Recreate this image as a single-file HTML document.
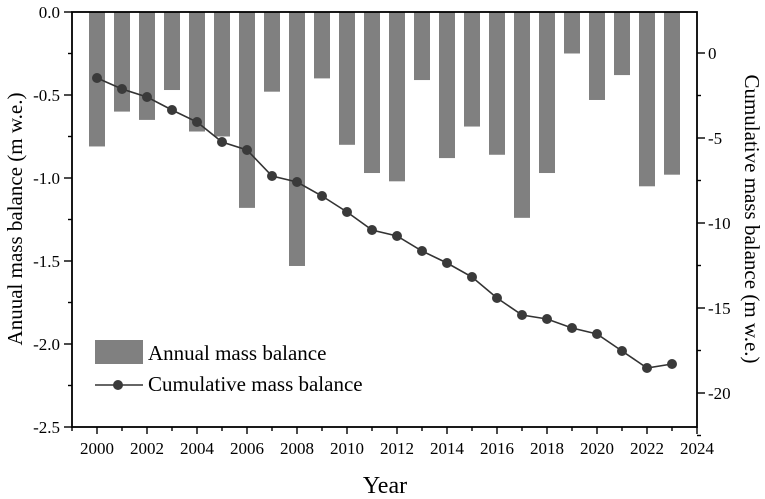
<!DOCTYPE html><html><head><style>body{margin:0;background:#fff}svg{display:block}text{font-family:"Liberation Serif",serif;fill:#000}</style></head><body>
<svg width="765" height="499" viewBox="0 0 765 499" xmlns="http://www.w3.org/2000/svg">
<g id="bars" fill="#808080"></g>
<polyline id="line" fill="none" stroke="#333" stroke-width="1.6"/>
<g id="dots" fill="#3a3a3a"></g>
<g stroke="#000" stroke-width="1.8" fill="none">
<rect x="72" y="12" width="625" height="415"/>
</g>
<g id="ticks" stroke="#000" stroke-width="1.4"></g>
<g id="labels" font-size="17"></g>
<rect x="95" y="340" width="48" height="24" fill="#808080"/>
<line x1="95" y1="385" x2="143" y2="385" stroke="#333" stroke-width="1.6"/>
<circle cx="118" cy="385" r="5" fill="#3a3a3a"/>
<text x="148" y="360" font-size="21">Annual mass balance</text>
<text x="148" y="391" font-size="21">Cumulative mass balance</text>
<text x="385" y="493" font-size="24" text-anchor="middle">Year</text>
<text transform="translate(22,219) rotate(-90)" font-size="21" text-anchor="middle">Anuual mass balance (m w.e.)</text>
<text transform="translate(745,219) rotate(90)" font-size="21" text-anchor="middle">Cumulative mass balance (m w.e.)</text>
<script>
const ns="http://www.w3.org/2000/svg";
function el(p,t,a,txt){const e=document.createElementNS(ns,t);for(const k in a)e.setAttribute(k,a[k]);if(txt!==undefined)e.textContent=txt;document.getElementById(p).appendChild(e);}
const ann=[-0.81,-0.60,-0.65,-0.47,-0.72,-0.75,-1.18,-0.48,-1.53,-0.40,-0.80,-0.97,-1.02,-0.41,-0.88,-0.69,-0.86,-1.24,-0.97,-0.25,-0.53,-0.38,-1.05,-0.98];
const cum=[78,89,97,110,122,142,150,176,182,196,212,230,236,251,263,277,298,315,319,328,334,351,368,364];
const X=y=>97+(y-2000)*25;
let pts=[];
ann.forEach((v,i)=>{const x=X(2000+i);el("bars","rect",{x:x-8,y:12,width:16,height:-v*166});pts.push(x+","+cum[i]);el("dots","circle",{cx:x,cy:cum[i],r:5});});
document.getElementById("line").setAttribute("points",pts.join(" "));
for(let y=1999;y<=2024;y++){const x=X(y);const maj=y%2==0;el("ticks","line",{x1:x,y1:427,x2:x,y2:maj?434:431});if(maj)el("labels","text",{x:x,y:454,"text-anchor":"middle"},String(y));}
for(let i=0;i<=10;i++){const v=-i*0.25;const y=12+i*0.25*166;const maj=i%2==0;el("ticks","line",{x1:72,y1:y,x2:maj?64:68,y2:y});if(maj)el("labels","text",{x:60,y:y+6,"text-anchor":"end"},v.toFixed(1));}
for(let v=0;v>=-22.5;v-=2.5){const y=53-v*17;const maj=v%5==0;el("ticks","line",{x1:697,y1:y,x2:maj?705:701,y2:y});if(maj)el("labels","text",{x:708,y:y+6},v==0?"0":String(v));}
</script>
</svg></body></html>
